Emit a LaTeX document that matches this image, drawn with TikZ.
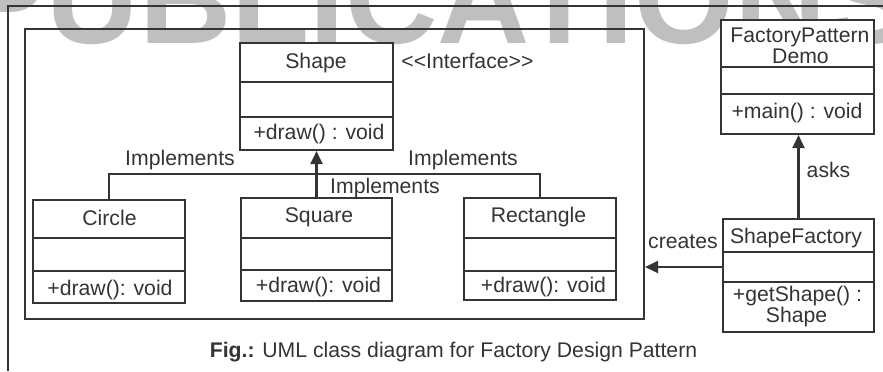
\documentclass[tikz,border=0pt]{standalone}
\usepackage{fontspec}
\setmainfont{Liberation Sans}
\usetikzlibrary{arrows.meta,fit}
\definecolor{ink}{RGB}{52,52,52}
\definecolor{wmark}{RGB}{191,191,191}
\newcommand\umlcls[7]{%
  \node[clsbox, fit={(#2,#3) (#4,#5)}] (#1) {};
  \draw[ln] (#2,#6) -- (#4,#6);
  \draw[ln] (#2,#7) -- (#4,#7);
}
\begin{document}
\begin{tikzpicture}[x=0.5pt,y=-0.5pt,
  ln/.style={draw=ink, line width=1.05pt},
  clsbox/.style={ln, fill=white, inner sep=0pt},
  framebox/.style={ln, inner sep=0pt},
  arr/.style={ln, -{Triangle[width=6pt,length=6.5pt]}},
  txt/.style={font=\fontsize{10.6}{12}\selectfont, text=ink, inner sep=0pt, anchor=base}]
\useasboundingbox (0,0) rectangle (883,371);
% watermark
\begin{scope}
  \clip (0,0) rectangle (883,371);
  \node[anchor=base west, inner sep=0pt, text=wmark, font=\fontsize{64}{64}\selectfont\bfseries] (wm) at (-39,43) {PUBLICATIONS};
\end{scope}
% outer frame (top and left edges)
\coordinate (otr) at (883,6);
\coordinate (otl) at (8,6);
\coordinate (obl) at (8,371);
\draw[ln] (otr) -- (otl) -- (obl);
% inner frame
\node[framebox, fit={(25,29) (644,319)}] (frame) {};
% classes
\umlcls{shape}{240}{43}{393}{150}{82}{117}
\umlcls{circle}{33}{200}{185}{303}{238}{271}
\umlcls{square}{241}{198}{392}{301}{238}{270}
\umlcls{rect}{464}{198}{616}{300}{238}{271}
\umlcls{fpd}{721}{20}{874}{134}{67}{94}
\umlcls{sfac}{723}{219}{874}{332}{252}{282}
% class texts
\node[txt] (shapeT) at (316,68) {Shape};
\node[txt] (shapeM) at (319,139) {+draw() : void};
\node[txt, anchor=base west] (iface) at (401,68) {<{}<Interface>{}>};
\node[txt] (circleT) at (109.5,225) {Circle};
\node[txt] (circleM) at (110,295) {+draw(): void};
\node[txt] (squareT) at (319,222) {Square};
\node[txt] (squareM) at (318.5,292) {+draw(): void};
\node[txt] (rectT) at (538.5,222) {Rectangle};
\node[txt] (rectM) at (543.5,292) {+draw(): void};
\node[txt] (fpdT1) at (800,42) {FactoryPattern};
\node[txt] (fpdT2) at (800.5,63) {Demo};
\node[txt] (fpdM) at (797,118) {+main() : void};
\node[txt] (sfacT) at (796,243) {ShapeFactory};
\node[txt] (sfacM1) at (797.5,301) {+getShape() :};
\node[txt] (sfacM2) at (796.5,322) {Shape};
% connectors
\draw[ln] (circle.north) -- (circle.north |- 0,174) -- (rect.north |- 0,174) -- (rect.north);
\draw[arr] (square.north) -- (square.north |- shape.south);
\draw[arr] (sfac.west |- 0,267) -- (frame.east |- 0,267);
\draw[arr] (sfac.north) -- (sfac.north |- fpd.south);
% labels
\node[txt] (impL) at (180,165) {Implements};
\node[txt] (impR) at (463,165) {Implements};
\node[txt] (impC) at (385,193) {Implements};
\node[txt] (creates) at (683,248) {creates};
\node[txt] (asks) at (828.5,177) {asks};
% caption
\node[txt] (caption) at (453.5,357) {\textbf{Fig.:} UML class diagram for Factory Design Pattern};
\end{tikzpicture}
\end{document}
